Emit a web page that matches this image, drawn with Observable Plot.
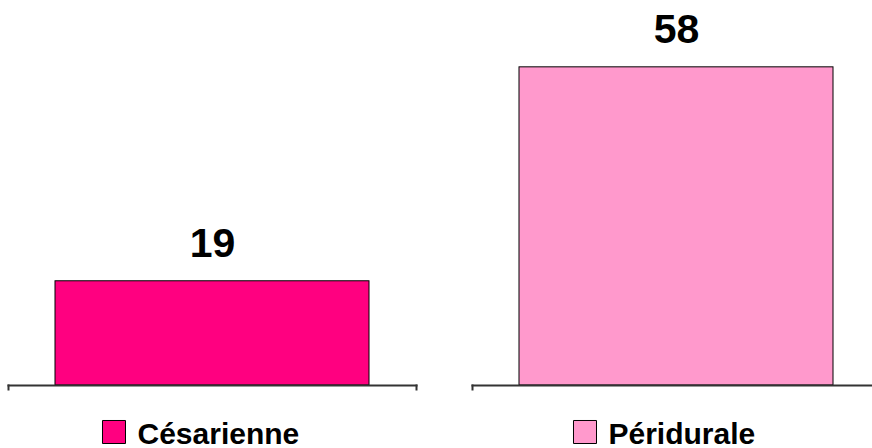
<!DOCTYPE html>
<html>
<head>
<meta charset="utf-8">
<script src="https://cdn.jsdelivr.net/npm/d3@7"></script>
<script src="https://cdn.jsdelivr.net/npm/@observablehq/plot@0.6"></script>
<style>
  html, body { margin: 0; padding: 0; background: #fff; }
  #chart svg { display: block; }
</style>
</head>
<body>
<div id="chart"></div>
<script>
const categories = ["Césarienne", "Péridurale"];
const values = [19, 58];
const colors = ["#FF0080", "#FF99CC"];

const data = categories.map((c, i) => ({category: c, value: values[i]}));
const font = "Liberation Sans, Arial, Helvetica, sans-serif";

const legendMarks = [
  {cat: "Césarienne", sq: -98.5, tx: -75},
  {cat: "Péridurale", sq: -91.5, tx: -68}
].flatMap(({cat, sq, tx}) => {
  const d = data.filter(r => r.category === cat);
  return [
    Plot.dot(d, {fx: "category", fill: "category", stroke: "#000", strokeWidth: 1,
      symbol: "square", r: 12.98, frameAnchor: "bottom", dx: sq, dy: 46.5}),
    Plot.text(d, {fx: "category", text: "category", frameAnchor: "bottom",
      textAnchor: "start", lineAnchor: "bottom", dx: tx, dy: 58,
      fontSize: 30, fontWeight: "bold", fontFamily: font, fill: "#000"})
  ];
});

const chart = Plot.plot({
  width: 872,
  height: 448,
  marginLeft: 8,
  marginRight: -8,
  marginTop: 1,
  marginBottom: 63,
  style: {fontFamily: font, background: "#fff", overflow: "visible"},
  fx: {domain: categories, paddingInner: 56 / 464, paddingOuter: 0, axis: null, label: null},
  y: {domain: [0, 70], axis: null},
  color: {domain: categories, range: colors},
  marks: [
    Plot.barY(data, {fx: "category", y: "value", fill: "category",
      stroke: "#000", strokeWidth: 1, insetLeft: 47, insetRight: 47}),
    Plot.frame({anchor: "bottom", stroke: "#333", strokeWidth: 2}),
    Plot.frame({anchor: "left", stroke: "#333", strokeWidth: 2, insetTop: 384, insetBottom: -4}),
    Plot.frame({anchor: "right", stroke: "#333", strokeWidth: 2, insetTop: 384, insetBottom: -4}),
    Plot.text(data, {fx: "category", y: "value", text: d => String(d.value),
      lineAnchor: "bottom", dy: -24, fontSize: 41, fontWeight: "bold",
      fontFamily: font, fill: "#000"}),
    ...legendMarks
  ]
});
document.getElementById("chart").appendChild(chart);
</script>
</body>
</html>
